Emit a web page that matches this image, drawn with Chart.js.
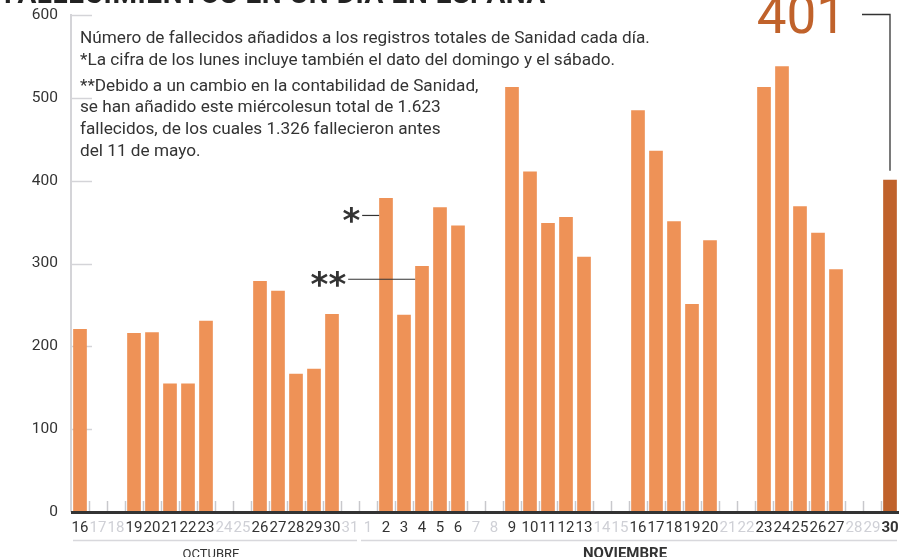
<!DOCTYPE html>
<html>
<head>
<meta charset="utf-8">
<script src="https://cdn.jsdelivr.net/npm/chart.js@4"></script>
<style>
  html, body { margin: 0; padding: 0; background: #fff; }
  #wrap { position: relative; width: 909px; height: 557px; overflow: hidden; font-family: Roboto, "Noto Sans", sans-serif; }
  #title { position: absolute; left: 4px; top: -23px; font-size: 28px; font-weight: 700; color: #222; white-space: nowrap; letter-spacing: 0.6px; }
  #notes { position: absolute; left: 80px; top: 27px; font-size: 17.2px; color: #333; line-height: 21.8px; }
  #notes p { margin: 0 0 4px 0; }
  canvas { position: absolute; left: 0; top: 0; }
</style>
</head>
<body>
<div id="wrap">
  <canvas id="c" width="909" height="557"></canvas>
  <div id="title">FALLECIMIENTOS EN UN DÍA EN ESPAÑA</div>
  <div id="notes">
    <p>Número de fallecidos añadidos a los registros totales de Sanidad cada día.<br>*La cifra de los lunes incluye también el dato del domingo y el sábado.</p>
    <p>**Debido a un cambio en la contabilidad de Sanidad,<br>se han añadido este miércolesun total de 1.623<br>fallecidos, de los cuales 1.326 fallecieron antes<br>del 11 de mayo.</p>
  </div>
</div>
<script>
// Days (Oct 16 – Nov 30)
const days = ["16","17","18","19","20","21","22","23","24","25","26","27","28","29","30","31",
              "1","2","3","4","5","6","7","8","9","10","11","12","13","14","15",
              "16","17","18","19","20","21","22","23","24","25","26","27","28","29","30"];
const months = ["OCTUBRE", "NOVIEMBRE"];
const monthLengths = [16, 30];
// weekend / no-data days
const weekend = [false,true,true,false,false,false,false,false,true,true,false,false,false,false,false,true,
                 true,false,false,false,false,false,true,true,false,false,false,false,false,true,true,
                 false,false,false,false,false,true,true,false,false,false,false,false,true,true,false];
const deaths = [221,null,null,216,217,155,155,231,null,null,279,267,167,173,239,null,
                null,379,238,297,368,346,null,null,513,411,349,356,308,null,null,
                485,436,351,251,328,null,null,513,538,369,337,293,null,null,401];
const yTicks = [0,100,200,300,400,500,600];
const lastValueLabel = "401";

const barColor = "#EE9257";
const lastColor = "#C0622B";
const colors = deaths.map((v, i) => i === deaths.length - 1 ? lastColor : barColor);

const deco = {
  id: "deco",
  beforeDatasetsDraw(chart) {
    const {ctx, chartArea: a, scales: {x, y}} = chart;
    ctx.save();
    ctx.strokeStyle = "#d4d4d8";
    ctx.lineWidth = 2;
    ctx.beginPath();
    ctx.moveTo(a.left, y.getPixelForValue(600) - 1);
    ctx.lineTo(a.left, a.bottom);
    ctx.stroke();
    ctx.lineWidth = 1.5;
    yTicks.forEach(t => {
      if (t === 0) return;
      const py = Math.round(y.getPixelForValue(t)) + 0.5;
      ctx.beginPath();
      ctx.moveTo(a.left, py);
      ctx.lineTo(a.left + 21, py);
      ctx.stroke();
    });
    ctx.strokeStyle = "#c8c8cc";
    ctx.lineWidth = 1.5;
    const step = x.getPixelForValue(1) - x.getPixelForValue(0);
    for (let i = 1; i < days.length; i++) {
      const px = Math.round(x.getPixelForValue(i) - step / 2) + 0.5;
      ctx.beginPath();
      ctx.moveTo(px, a.bottom - 11);
      ctx.lineTo(px, a.bottom);
      ctx.stroke();
    }
    ctx.restore();
  },
  afterDatasetsDraw(chart) {
    const {ctx, chartArea: a, scales: {x, y}} = chart;
    const step = x.getPixelForValue(1) - x.getPixelForValue(0);
    const barW = step * 0.76;
    ctx.save();
    ctx.strokeStyle = "#333";
    ctx.lineWidth = 3;
    ctx.beginPath();
    ctx.moveTo(a.left, a.bottom + 0.5);
    ctx.lineTo(a.right, a.bottom + 0.5);
    ctx.stroke();

    let start = 0;
    monthLengths.forEach((len, m) => {
      const x0 = x.getPixelForValue(start) - step / 2 + 2;
      const x1 = x.getPixelForValue(start + len - 1) + step / 2 - 2;
      ctx.strokeStyle = "#d8d8dc";
      ctx.lineWidth = 1.5;
      ctx.beginPath();
      ctx.moveTo(x0, 540.5);
      ctx.lineTo(x1, 540.5);
      ctx.stroke();
      ctx.fillStyle = "#333";
      ctx.textAlign = "center";
      ctx.textBaseline = "alphabetic";
      ctx.font = m === 0 ? "13px Roboto" : "bold 15px Roboto";
      ctx.fillText(months[m], (x0 + x1) / 2 - 4, 558);
      start += len;
    });

    ctx.strokeStyle = "#333";
    ctx.fillStyle = "#333";
    ctx.lineWidth = 1.2;
    const i1 = 17;
    const e1 = x.getPixelForValue(i1) - barW / 2;
    const y1 = y.getPixelForValue(358);
    ctx.beginPath();
    ctx.moveTo(e1 - 17, y1);
    ctx.lineTo(e1, y1);
    ctx.stroke();
    ctx.font = "bold 34px 'DejaVu Sans'";
    ctx.textAlign = "right";
    ctx.textBaseline = "middle";
    ctx.fillText("*", e1 - 19, y1 + 8);
    const i2 = 19;
    const e2 = x.getPixelForValue(i2) - barW / 2;
    const y2 = y.getPixelForValue(281);
    ctx.beginPath();
    ctx.moveTo(e2 - 67, y2);
    ctx.lineTo(e2, y2);
    ctx.stroke();
    ctx.fillText("**", e2 - 69, y2 + 8);

    const iL = deaths.length - 1;
    const cx = x.getPixelForValue(iL);
    const topY = y.getPixelForValue(deaths[iL]);
    ctx.strokeStyle = "#333";
    ctx.lineWidth = 1.3;
    ctx.beginPath();
    ctx.moveTo(cx - 28, 14.5);
    ctx.lineTo(cx, 14.5);
    ctx.lineTo(cx, topY - 9);
    ctx.stroke();
    ctx.fillStyle = lastColor;
    ctx.font = "53px Roboto";
    ctx.textAlign = "right";
    ctx.textBaseline = "alphabetic";
    ctx.fillText(lastValueLabel, cx - 44, 33);
    ctx.restore();
  }
};

new Chart(document.getElementById("c"), {
  type: "bar",
  data: {
    labels: days,
    datasets: [{
      data: deaths,
      backgroundColor: colors,
      borderWidth: 0,
      barPercentage: 0.76,
      categoryPercentage: 1.0
    }]
  },
  options: {
    responsive: false,
    animation: false,
    events: [],
    layout: { padding: { top: 15, right: 10, left: 0, bottom: 0 } },
    plugins: { legend: { display: false }, tooltip: { enabled: false }, title: { display: false } },
    scales: {
      x: {
        grid: { display: false, drawTicks: false },
        border: { display: false },
        ticks: {
          autoSkip: false,
          maxRotation: 0,
          minRotation: 0,
          padding: 7,
          font: ctx => ({ family: "Roboto", size: 15, weight: ctx.index === days.length - 1 ? "bold" : "normal" }),
          color: ctx => weekend[ctx.index] ? "#cfd0d6" : "#333"
        },
        afterFit: s => { s.height = 45; }
      },
      y: {
        min: 0,
        max: 600,
        grid: { display: true, drawOnChartArea: false, drawTicks: true, tickLength: 13, color: "rgba(0,0,0,0)" },
        border: { display: false },
        ticks: {
          stepSize: 100,
          padding: 0,
          color: "#333",
          font: { family: "Roboto", size: 15.5 }
        },
        afterFit: s => { s.width = 71; }
      }
    }
  },
  plugins: [deco]
});
</script>
</body>
</html>
